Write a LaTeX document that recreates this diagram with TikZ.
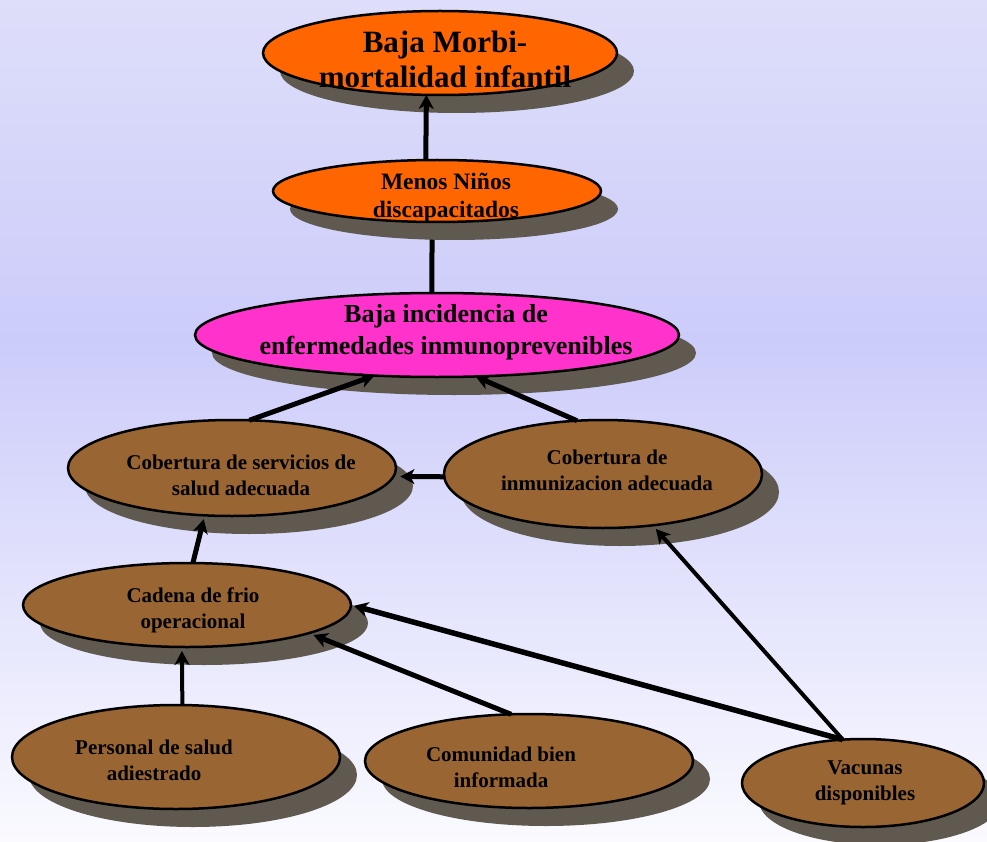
\documentclass[tikz,border=0pt]{standalone}
\usepackage{fontspec}
\setmainfont{Liberation Serif}
\usetikzlibrary{arrows.meta,shapes.geometric,shadows}
\pgfdeclarelayer{bg}
\pgfdeclarelayer{back}
\pgfsetlayers{bg,back,main}
\definecolor{bgtop}{RGB}{222,222,250}
\definecolor{bgmid}{RGB}{204,204,250}
\definecolor{bgbot}{RGB}{250,250,255}
\definecolor{orangec}{RGB}{255,102,0}
\definecolor{pinkc}{RGB}{255,51,204}
\definecolor{brownc}{RGB}{153,102,51}
\definecolor{shadowc}{RGB}{95,89,80}
\begin{document}
\begin{tikzpicture}[x=1pt,y=-1pt,
  ell/.style={ellipse, draw=black, line width=2.5pt, inner sep=0pt, outer sep=0pt,
    general shadow={fill=shadowc, shadow xshift=17pt, shadow yshift=-18pt}},
  brn/.style={ell, fill=brownc},
  txtbig/.style={align=center, inner sep=0pt, font=\fontsize{31}{35}\selectfont\bfseries},
  txtmen/.style={align=center, inner sep=0pt, font=\fontsize{23.5}{28}\selectfont\bfseries},
  txtpin/.style={align=center, inner sep=0pt, font=\fontsize{26}{32}\selectfont\bfseries},
  txt/.style={align=center, inner sep=0pt, font=\fontsize{21}{26}\selectfont\bfseries},
  arr/.style={-{Stealth[length=14pt,width=15pt,inset=4pt]}, line width=5pt},
  plain/.style={line width=5pt}
]
\useasboundingbox (0,0) rectangle (987,842);
\begin{pgfonlayer}{bg}
  \shade[top color=bgtop, bottom color=bgmid] (0,0) rectangle (987,341);
  \shade[top color=bgmid, bottom color=bgbot] (0,340) rectangle (987,842);
\end{pgfonlayer}

% ellipses
\node[ell, fill=orangec, minimum width=354pt, minimum height=84pt] (top) at (440,53) {};
\node[ell, fill=orangec, minimum width=328pt, minimum height=62pt] (men) at (437,191) {};
\node[ell, fill=pinkc, minimum width=484pt, minimum height=84pt] (pin) at (437,335) {};
\node[brn, minimum width=328pt, minimum height=96pt] (cs) at (232,468) {};
\node[brn, minimum width=318pt, minimum height=108pt] (ci) at (603,474) {};
\node[brn, minimum width=328pt, minimum height=84pt] (cad) at (187,605) {};
\node[brn, minimum width=328pt, minimum height=104pt] (per) at (176,757) {};
\node[brn, minimum width=328pt, minimum height=94pt] (com) at (529,761) {};
\node[brn, minimum width=242pt, minimum height=88pt] (vac) at (863,783) {};

% texts
\node[txtbig] (top-t) at (445,59) {Baja Morbi-\\mortalidad infantil};
\node[txtmen] (men-t) at (446,198) {Menos Niños\\discapacitados};
\node[txtpin] (pin-t) at (446,332) {Baja incidencia de\\enfermedades inmunoprevenibles};
\node[txt] (cs-t) at (241,475) {Cobertura de servicios de\\salud adecuada};
\node[txt] (ci-t) at (607,470) {Cobertura de\\inmunizacion adecuada};
\node[txt] (cad-t) at (193,610) {Cadena de frio\\operacional};
\node[txt] (per-t) at (154,760) {Personal de salud\\adiestrado};
\node[txt] (com-t) at (501,767) {Comunidad bien\\informada};
\node[txt] (vac-t) at (865,783) {Vacunas\\disponibles};

% connectors
\begin{pgfonlayer}{back}
  \draw[plain] (men.-99) -- (pin.97);
\end{pgfonlayer}
\draw[arr] (men.110) -- (top.-108);
\draw[arr] (cs.70) -- (pin.-147);
\draw[arr] (ci.116) -- (pin.-47);
\draw[arr, shorten >=7pt] (ci.181) -- (cs.-3);
\draw[arr, shorten >=4pt] (cad.82) -- (cs.-120);
\draw[arr, line width=4pt, shorten >=4pt] (per.83) -- (cad.-97);
\draw[arr, shorten >=5pt] (com.111) -- (cad.-13);
\draw[arr, line width=5.5pt, shorten >=3pt] (vac.115) -- (cad.0);
\draw[arr, line width=4pt, shorten >=5pt] (vac.115) -- (ci.-46);
\end{tikzpicture}
\end{document}
